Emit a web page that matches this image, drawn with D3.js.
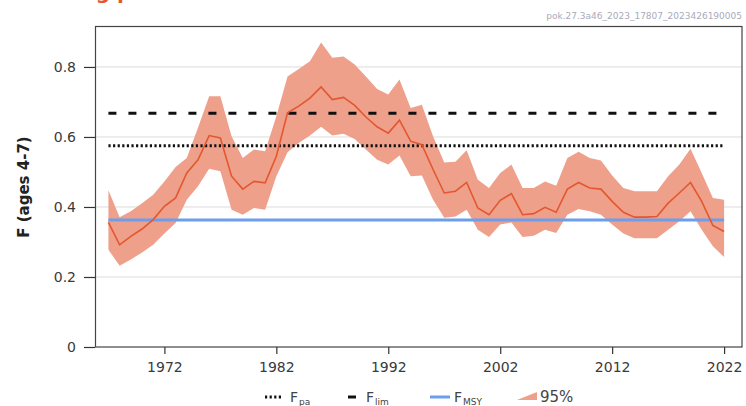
<!DOCTYPE html>
<head>
    <title>Fishing pressure</title>
</head>
<style>
    body { margin: 0; background: #fff; }
    svg { font-family: "DejaVu Sans", sans-serif; display: block; }
</style>
<svg width="746" height="406"></svg>
<script src="https://d3js.org/d3.v7.min.js"></script>
<script>

    // fishing mortality, ages 4-7
    var years = d3.range(1967, 2023);
    var fMean = [0.356, 0.292, 0.316, 0.337, 0.364, 0.402, 0.426, 0.497, 0.535, 0.604,
                 0.597, 0.488, 0.451, 0.473, 0.469, 0.545, 0.669, 0.688, 0.711, 0.743,
                 0.707, 0.713, 0.690, 0.657, 0.629, 0.611, 0.648, 0.588, 0.578, 0.507,
                 0.440, 0.445, 0.470, 0.397, 0.378, 0.419, 0.438, 0.378, 0.381, 0.399,
                 0.385, 0.451, 0.470, 0.454, 0.451, 0.416, 0.385, 0.371, 0.371, 0.373,
                 0.411, 0.440, 0.470, 0.416, 0.347, 0.330];
    var fHigh = [0.448, 0.371, 0.388, 0.411, 0.435, 0.473, 0.514, 0.540, 0.626, 0.716,
                 0.716, 0.602, 0.540, 0.564, 0.559, 0.659, 0.773, 0.794, 0.816, 0.870,
                 0.826, 0.830, 0.807, 0.773, 0.737, 0.721, 0.764, 0.683, 0.692, 0.602,
                 0.527, 0.529, 0.562, 0.478, 0.454, 0.497, 0.521, 0.454, 0.454, 0.473,
                 0.461, 0.540, 0.558, 0.540, 0.533, 0.490, 0.454, 0.445, 0.445, 0.445,
                 0.488, 0.521, 0.566, 0.497, 0.426, 0.421];
    var fLow  = [0.278, 0.232, 0.250, 0.270, 0.292, 0.324, 0.354, 0.421, 0.459, 0.509,
                 0.502, 0.392, 0.378, 0.397, 0.392, 0.488, 0.556, 0.583, 0.604, 0.629,
                 0.604, 0.609, 0.594, 0.564, 0.535, 0.521, 0.547, 0.488, 0.490, 0.421,
                 0.369, 0.373, 0.392, 0.335, 0.314, 0.350, 0.356, 0.314, 0.318, 0.335,
                 0.326, 0.378, 0.394, 0.388, 0.378, 0.350, 0.324, 0.311, 0.311, 0.311,
                 0.335, 0.359, 0.388, 0.335, 0.288, 0.257];

    var refNames = ["Fpa", "Flim", "FMSY"];
    var refValues = [0.575, 0.668, 0.363];

    var xTicks = [1972, 1982, 1992, 2002, 2012, 2022];
    var yTicks = [0, 0.2, 0.4, 0.6, 0.8];

    var svg = d3.select("svg");

    var x = d3.scaleLinear().domain([1965.8, 2023.6]).range([95, 742]);
    var y = d3.scaleLinear().domain([0, 0.917]).range([347, 26]);

    var data = years.map(function(yr, i) {
        return {year: yr, f: fMean[i], hi: fHigh[i], lo: fLow[i]};
    });

    // title, cut off at the top edge like in the source picture
    svg.append("text")
        .attr("x", 28)
        .attr("y", -1)
        .attr("fill", "#e4572e")
        .attr("font-size", 20)
        .attr("font-weight", "bold")
        .text("Fishing pressure");

    svg.append("text")
        .attr("x", 742)
        .attr("y", 19)
        .attr("text-anchor", "end")
        .attr("fill", "#aab")
        .attr("font-size", 9)
        .text("pok.27.3a46_2023_17807_2023426190005");

    // gridlines
    svg.append("g").selectAll("line")
        .data(yTicks.filter(function(d) { return d > 0; }))
        .enter().append("line")
        .attr("x1", x.range()[0]).attr("x2", x.range()[1])
        .attr("y1", function(d) { return y(d); })
        .attr("y2", function(d) { return y(d); })
        .attr("stroke", "#dcdcdc")
        .attr("stroke-width", 1);

    // confidence band
    var area = d3.area()
        .x(function(d) { return x(d.year); })
        .y0(function(d) { return y(d.lo); })
        .y1(function(d) { return y(d.hi); });

    svg.append("path")
        .datum(data)
        .attr("d", area)
        .attr("fill", "#eea08b");

    // reference points
    var refStyle = {
        Fpa:  {stroke: "#111", width: 3, dash: "2.2,2.4"},
        Flim: {stroke: "#111", width: 3, dash: "8,12"},
        FMSY: {stroke: "#6d9eeb", width: 3, dash: null}
    };

    refNames.forEach(function(name, i) {
        var s = refStyle[name];
        svg.append("line")
            .attr("x1", x(years[0]))
            .attr("x2", x(years[years.length - 1]))
            .attr("y1", y(refValues[i]))
            .attr("y2", y(refValues[i]))
            .attr("stroke", s.stroke)
            .attr("stroke-width", s.width)
            .attr("stroke-dasharray", s.dash);
    });

    // F line
    var line = d3.line()
        .x(function(d) { return x(d.year); })
        .y(function(d) { return y(d.f); });

    svg.append("path")
        .datum(data)
        .attr("d", line)
        .attr("fill", "none")
        .attr("stroke", "#e4572e")
        .attr("stroke-width", 1.6);

    // frame
    svg.append("rect")
        .attr("x", 95.5).attr("y", 26.5)
        .attr("width", 742 - 95.5).attr("height", 347 - 26.5)
        .attr("fill", "none")
        .attr("stroke", "#444")
        .attr("stroke-width", 1.2);

    // axes
    var xAxis = svg.append("g")
        .attr("transform", "translate(0,347)")
        .call(d3.axisBottom(x).tickValues(xTicks).tickFormat(d3.format("d")).tickSize(7).tickPadding(8));

    var yAxis = svg.append("g")
        .attr("transform", "translate(95,0)")
        .call(d3.axisLeft(y).tickValues(yTicks).tickFormat(function(d) { return d === 0 ? "0" : d3.format(".1f")(d); }).tickSize(11).tickPadding(8));

    [xAxis, yAxis].forEach(function(g) {
        g.select(".domain").remove();
        g.selectAll(".tick line").attr("stroke", "#333").attr("stroke-width", 1.2);
        g.selectAll(".tick text")
            .attr("fill", "#3a3a3a")
            .attr("font-size", 14)
            .attr("font-family", "DejaVu Sans, sans-serif");
    });

    svg.append("text")
        .attr("transform", "translate(29,187) rotate(-90)")
        .attr("text-anchor", "middle")
        .attr("font-size", 15)
        .attr("font-weight", "bold")
        .attr("fill", "#222")
        .text("F (ages 4-7)");

    // legend
    var legend = svg.append("g").attr("font-size", 14).attr("fill", "#444");
    var legendY = 397;

    legend.append("line")
        .attr("x1", 265).attr("x2", 283).attr("y1", legendY).attr("y2", legendY)
        .attr("stroke", "#111").attr("stroke-width", 3).attr("stroke-dasharray", "2.2,2.4");
    legend.append("line")
        .attr("x1", 348).attr("x2", 356).attr("y1", legendY).attr("y2", legendY)
        .attr("stroke", "#111").attr("stroke-width", 3);
    legend.append("line")
        .attr("x1", 430).attr("x2", 450).attr("y1", legendY).attr("y2", legendY)
        .attr("stroke", "#6d9eeb").attr("stroke-width", 3);
    legend.append("path")
        .attr("d", "M517," + (legendY + 3) + "L537," + (legendY - 5) + "L537," + (legendY + 3) + "Z")
        .attr("fill", "#eea08b");

    var labels = [
        {x: 290, main: "F", sub: "pa"},
        {x: 366, main: "F", sub: "lim"},
        {x: 454, main: "F", sub: "MSY"}
    ];
    labels.forEach(function(l) {
        var t = legend.append("text")
            .attr("x", l.x).attr("y", legendY + 5);
        t.append("tspan").text(l.main);
        t.append("tspan").attr("font-size", 9).attr("dy", 3).attr("dx", 1).text(l.sub);
    });
    legend.append("text")
        .attr("x", 540).attr("y", legendY + 5)
        .attr("font-size", 15)
        .text("95%");

</script>
